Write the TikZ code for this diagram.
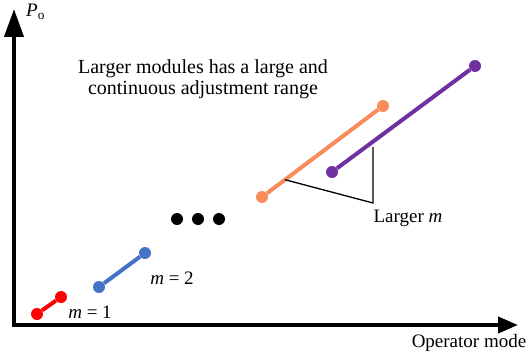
\documentclass[tikz,border=0pt]{standalone}
\usepackage{fontspec}
\setmainfont{Liberation Serif}
\usetikzlibrary{arrows.meta,calc}

\definecolor{segred}{RGB}{255,0,0}
\definecolor{segblue}{RGB}{68,114,196}
\definecolor{segorange}{RGB}{248,140,90}
\definecolor{segpurple}{RGB}{112,48,160}

\begin{document}
\begin{tikzpicture}[x=1pt, y=-1pt,
	dot/.style={circle, inner sep=0pt, minimum size=12pt},
	seg/.style={line width=4pt},
	lbl/.style={inner sep=0pt, font=\fontsize{19}{22}\selectfont}]
	\useasboundingbox (0,0) rectangle (529,361);
	
	% Axes
	\coordinate (ytip) at (14,9);
	\coordinate (origin) at (14,325);
	\coordinate (xtip) at (518,325);
	\draw[line width=4pt, {Triangle[length=28pt,width=19pt]}-{Triangle[length=20pt,width=16pt]}] (ytip) -- (origin) -- (xtip);
	
	% Module ranges
	\node[dot, fill=segred] (r1) at (37,314) {};
	\node[dot, fill=segred] (r2) at (61,297) {};
	\node[dot, fill=segblue] (b1) at (99,287) {};
	\node[dot, fill=segblue] (b2) at (145,253) {};
	\node[dot, fill=segorange] (o1) at (262,197) {};
	\node[dot, fill=segorange] (o2) at (383,106) {};
	\node[dot, fill=segpurple] (p1) at (332,172) {};
	\node[dot, fill=segpurple] (p2) at (475,66) {};
	
	\draw[seg, segred] (r1) -- (r2); % m = 1
	\draw[seg, segblue] (b1) -- (b2); % m = 2
	\draw[seg, segorange] (o1) -- (o2);
	\draw[seg, segpurple] (p1) -- (p2);
	
	% Dots in between
	\node[dot, fill=black] (d1) at (177,219) {};
	\node[dot, fill=black] (d2) at (198,219) {};
	\node[dot, fill=black] (d3) at (219,219) {};
	
	% Larger m bracket
	\coordinate (ob) at ($(o1)!0.19!(o2)$);
	\coordinate (knee) at (373,203);
	\coordinate (pb) at (373,147);
	\draw[line width=1.3pt] (ob) -- (knee) -- (pb);
	
	% Labels
	\node[lbl, anchor=base west] (py) at (26,17) {\textit{P}\textsubscript{o}};
	\node[lbl, anchor=base] (px) at (469,347) {Operator mode};
	\node[lbl, align=center, font=\fontsize{20}{21.5}\selectfont] (note) at (203,79) {Larger modules has a large and\\continuous adjustment range};
	\node[lbl, anchor=base] (m2) at (172,284) {\textit{m} = 2};
	\node[lbl, anchor=base] (m1) at (90,318) {\textit{m} = 1};
	\node[lbl, anchor=base] (lm) at (408,222) {Larger \textit{m}};
\end{tikzpicture}
\end{document}
